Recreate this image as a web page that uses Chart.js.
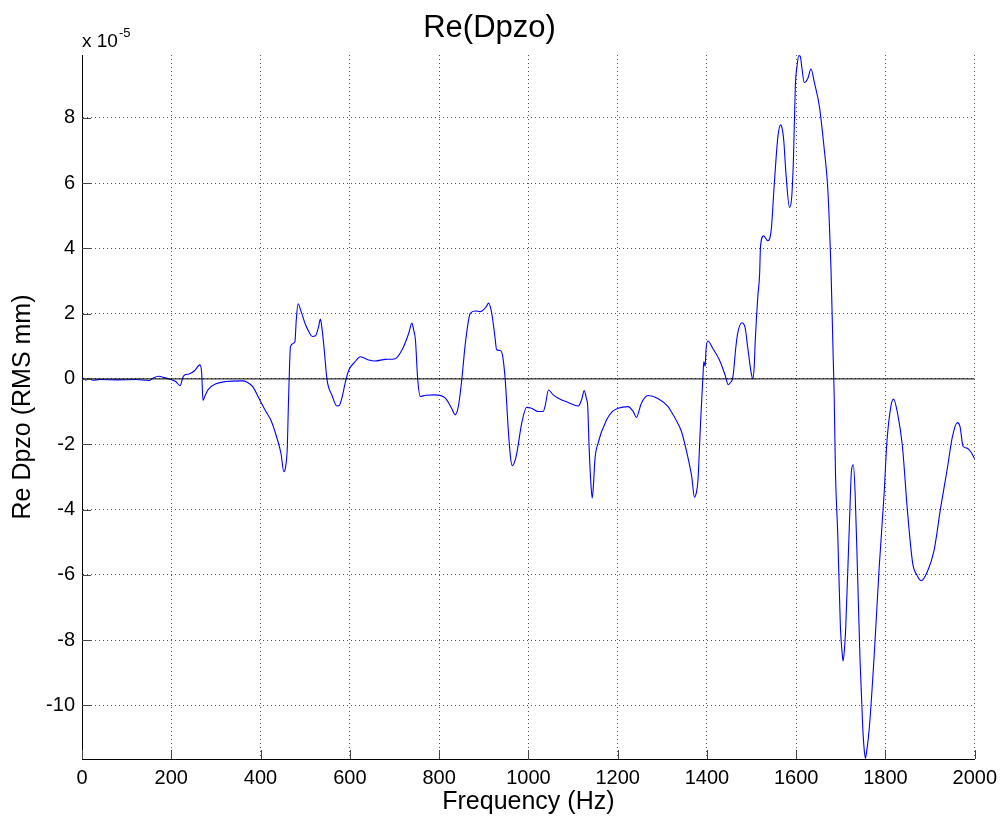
<!DOCTYPE html>
<html>
<head>
<meta charset="utf-8">
<title>Re(Dpzo)</title>
<script src="https://cdn.jsdelivr.net/npm/chart.js@4.4.1/dist/chart.umd.min.js"></script>
<style>
  html, body { margin: 0; padding: 0; background: #fff; }
  #wrap { width: 1004px; height: 826px; }
</style>
</head>
<body>
<div id="wrap"><canvas id="chart"></canvas></div>
<script>
// values, y in units of 1e-5 RMS mm
const freqHz = [
  0, 8, 15, 25, 40, 80, 120, 150, 160, 172, 185, 195, 210, 220, 226, 230, 240, 252, 264, 268,
  271, 276, 283, 300, 322, 359, 370, 382, 400, 412, 423, 438, 446, 452, 456, 460, 462, 464, 467, 477,
  480, 484, 490, 501, 510, 516, 523, 530, 534, 538, 542, 549, 560, 571, 577, 583, 590, 598, 610, 624,
  642, 657, 680, 702, 717, 732, 739, 743, 747, 752, 758, 770, 791, 814, 828, 836, 843, 851, 858, 866,
  870, 881, 892, 905, 911, 918, 925, 929, 937, 942, 948, 955, 960, 964, 969, 974, 985, 996, 1007, 1022,
  1033, 1038, 1045, 1055, 1067, 1089, 1112, 1120, 1125, 1130, 1133, 1136, 1140, 1143, 1146, 1149, 1156, 1175, 1188, 1201,
  1223, 1235, 1242, 1253, 1268, 1290, 1313, 1320, 1334, 1343, 1357, 1366, 1372, 1376, 1380, 1383, 1386, 1391, 1393, 1396,
  1398, 1402, 1413, 1428, 1440, 1448, 1452, 1458, 1465, 1469, 1478, 1485, 1492, 1499, 1503, 1506, 1508, 1514, 1518, 1520,
  1527, 1536, 1544, 1551, 1559, 1565, 1568, 1572, 1577, 1585, 1590, 1594, 1598, 1602, 1606, 1609, 1613, 1618, 1626, 1633,
  1641, 1652, 1663, 1670, 1674, 1678, 1683, 1685, 1688, 1693, 1699, 1703, 1705, 1708, 1711, 1719, 1724, 1728, 1732, 1737,
  1743, 1749, 1752, 1755, 1758, 1764, 1775, 1786, 1797, 1803, 1812, 1818, 1827, 1838, 1849, 1861, 1870, 1880, 1894, 1909,
  1924, 1938, 1950, 1961, 1967, 1974, 1983, 1991, 2000
];
const reDpzo = [
  0.05, -0.03, 0.0, -0.04, -0.02, -0.03, -0.02, -0.05, 0.03, 0.08, 0.04, 0.0, -0.08, -0.21, 0.05, 0.12, 0.15, 0.25, 0.43, 0.2,
  -0.66, -0.5, -0.32, -0.15, -0.08, -0.06, -0.1, -0.23, -0.69, -1.0, -1.26, -1.87, -2.3, -2.84, -2.7, -2.07, -1.0, -0.03, 0.99, 1.14,
  1.8, 2.30, 2.1, 1.65, 1.4, 1.30, 1.32, 1.6, 1.83, 1.5, 0.99, -0.03, -0.5, -0.83, -0.8, -0.54, -0.1, 0.28, 0.5, 0.68,
  0.58, 0.55, 0.60, 0.62, 0.89, 1.40, 1.71, 1.5, 1.19, 0.0, -0.54, -0.5, -0.49, -0.59, -0.9, -1.10, -0.85, 0.0, 0.99, 1.8,
  2.01, 2.08, 2.06, 2.2, 2.32, 2.01, 1.3, 0.89, 0.87, 0.73, 0.0, -1.56, -2.4, -2.66, -2.55, -2.28, -1.36, -0.87, -0.9, -1.0,
  -1.0, -0.8, -0.34, -0.48, -0.59, -0.72, -0.83, -0.6, -0.36, -0.6, -0.85, -2.07, -3.2, -3.65, -3.2, -2.48, -1.97, -1.26, -1.0, -0.90,
  -0.85, -1.0, -1.18, -0.75, -0.51, -0.6, -0.85, -1.0, -1.34, -1.61, -2.38, -3.0, -3.62, -3.5, -3.09, -2.2, -1.26, 0.05, 0.53, 0.38,
  0.9, 1.16, 0.94, 0.58, 0.15, -0.18, -0.12, 0.04, 1.0, 1.40, 1.72, 1.6, 0.9, 0.2, 0.0, 0.4, 1.09, 2.52, 3.2, 4.05,
  4.38, 4.23, 4.56, 5.99, 7.42, 7.78, 7.7, 7.32, 6.30, 5.25, 5.58, 6.81, 8.95, 9.6, 9.9, 9.88, 9.5, 9.08, 9.2, 9.49,
  9.06, 8.34, 7.01, 5.99, 4.87, 3.34, 0.58, -0.44, -2.89, -4.73, -7.59, -8.4, -8.64, -8.3, -7.59, -4.52, -2.79, -2.63, -3.50, -5.75,
  -8.61, -10.65, -11.3, -11.62, -11.4, -10.65, -8.40, -5.75, -3.50, -1.97, -0.85, -0.62, -1.05, -2.07, -4.01, -5.65, -6.00, -6.18, -5.90, -5.24,
  -3.91, -2.79, -1.77, -1.34, -1.46, -2.07, -2.12, -2.23, -2.45
];
const zeroLine = [{ x: 0, y: 0 }, { x: 2000, y: 0 }];
const yTicks = [-10, -8, -6, -4, -2, 0, 2, 4, 6, 8];

const FONT = 'Liberation Sans, Arial, Helvetica, sans-serif';

// MATLAB style ticks drawn inside the axes, plus the exponent note
const insideTicks = {
  id: 'insideTicks',
  afterDraw(chart) {
    const { ctx, chartArea: a, scales: { x, y } } = chart;
    ctx.save();
    ctx.strokeStyle = '#444';
    ctx.lineWidth = 1;
    ctx.beginPath();
    x.ticks.forEach(t => {
      const px = Math.round(x.getPixelForValue(t.value)) + 0.5;
      ctx.moveTo(px, a.bottom);
      ctx.lineTo(px, a.bottom - 9);
    });
    y.ticks.forEach(t => {
      const py = Math.round(y.getPixelForValue(t.value)) + 0.5;
      ctx.moveTo(a.left, py);
      ctx.lineTo(a.left + 9, py);
    });
    ctx.stroke();

    ctx.fillStyle = '#000';
    ctx.textBaseline = 'alphabetic';
    ctx.textAlign = 'left';
    ctx.font = '19px ' + FONT;
    ctx.fillText('x 10', a.left, 47);
    const w = ctx.measureText('x 10').width;
    ctx.font = '13px ' + FONT;
    ctx.fillText('-5', a.left + w + 1, 37);
    ctx.restore();
  }
};

new Chart(document.getElementById('chart'), {
  type: 'line',
  data: {
    datasets: [
      {
        data: zeroLine,
        borderColor: '#000',
        borderWidth: 1,
        pointRadius: 0
      },
      {
        data: freqHz.map((f, i) => ({ x: f, y: reDpzo[i] })),
        borderColor: 'rgb(0,0,255)',
        borderWidth: 1.1,
        pointRadius: 0,
        cubicInterpolationMode: 'monotone'
      }
    ]
  },
  options: {
    responsive: true,
    maintainAspectRatio: false,
    animation: false,
    layout: { padding: { left: 0, right: 25, top: 0, bottom: 0 } },
    plugins: {
      legend: { display: false },
      tooltip: { enabled: false },
      title: {
        display: true,
        text: 'Re(Dpzo)',
        color: '#000',
        font: { family: FONT, size: 31, weight: 'normal', lineHeight: 1.2 },
        padding: { top: 10, bottom: 7.8 }
      }
    },
    scales: {
      x: {
        type: 'linear',
        min: 0,
        max: 2000,
        ticks: {
          stepSize: 200,
          color: '#000',
          padding: 7,
          maxRotation: 0,
          callback: v => String(v),
          font: { family: FONT, size: 20 }
        },
        grid: { color: '#555', drawTicks: false },
        border: { display: true, color: '#000', width: 1, dash: [1, 3] },
        title: {
          display: true,
          text: 'Frequency (Hz)',
          color: '#000',
          font: { family: FONT, size: 25, lineHeight: 1.2 },
          padding: { top: 0, bottom: 9 }
        },
        afterFit(scale) { scale.height = 67; }
      },
      y: {
        type: 'linear',
        min: -11.64,
        max: 9.92,
        afterBuildTicks(scale) {
          scale.ticks = yTicks.map(v => ({ value: v }));
        },
        ticks: {
          color: '#000',
          padding: 7,
          callback: v => String(v),
          font: { family: FONT, size: 20 }
        },
        grid: { color: '#555', drawTicks: false },
        border: { display: true, color: '#000', width: 1, dash: [1, 3] },
        title: {
          display: true,
          text: 'Re Dpzo (RMS mm)',
          color: '#000',
          font: { family: FONT, size: 25, lineHeight: 1.2 },
          padding: { top: 8, bottom: 0 }
        },
        afterFit(scale) { scale.width = 82; }
      }
    }
  },
  plugins: [insideTicks]
});
</script>
</body>
</html>
